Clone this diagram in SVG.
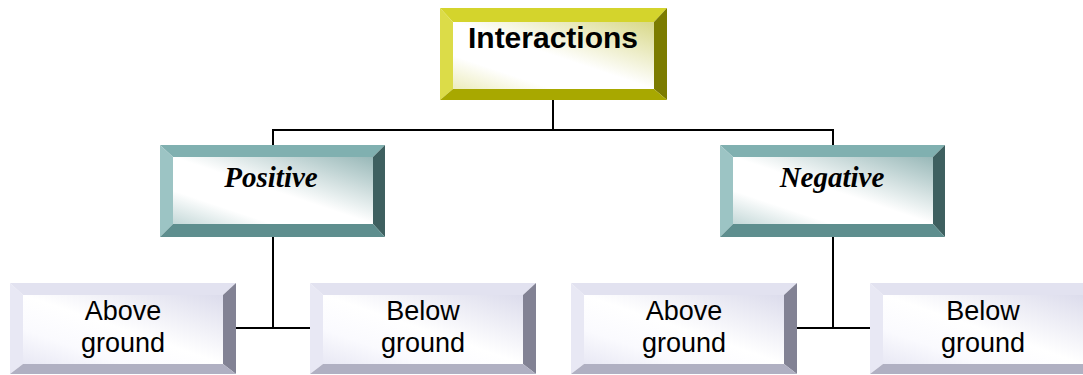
<svg xmlns="http://www.w3.org/2000/svg" width="1083" height="375" viewBox="0 0 1083 375">
<defs>
<linearGradient id="gY" x1="1" y1="0" x2="0" y2="1">
<stop offset="0" stop-color="#d8d888"/><stop offset="0.5" stop-color="#ffffff"/><stop offset="0.75" stop-color="#ffffff"/><stop offset="1" stop-color="#ececbc"/>
</linearGradient>
<linearGradient id="gT" x1="1" y1="0" x2="0" y2="1">
<stop offset="0" stop-color="#98b8b8"/><stop offset="0.5" stop-color="#ffffff"/><stop offset="0.75" stop-color="#ffffff"/><stop offset="1" stop-color="#c4d8d8"/>
</linearGradient>
<linearGradient id="gL" x1="1" y1="0" x2="0" y2="1">
<stop offset="0" stop-color="#dcdcec"/><stop offset="0.5" stop-color="#ffffff"/><stop offset="0.75" stop-color="#fafafe"/><stop offset="1" stop-color="#e8e8f4"/>
</linearGradient>
</defs>
<style>
.yT{fill:#d4d42c}.yL{fill:#dcdc48}.yR{fill:#7c7c00}.yB{fill:#a8a800}
.tT{fill:#80b0b0}.tL{fill:#9cc4c4}.tR{fill:#3e6060}.tB{fill:#5e8e8e}
.lT{fill:#e2e2f0}.lL{fill:#e8e8f4}.lR{fill:#828294}.lB{fill:#b0b0c2}
.head{font-family:"Liberation Sans",Arial,sans-serif;font-weight:bold;font-size:30px;fill:#000;text-anchor:middle}
.mid{font-family:"Liberation Serif","Times New Roman",serif;font-weight:bold;font-style:italic;font-size:29px;fill:#000;text-anchor:middle}
.leaf{font-family:"Liberation Sans",Arial,sans-serif;font-size:27px;fill:#000;text-anchor:middle}
.conn{stroke:#000;stroke-width:2;fill:none}
</style>
<rect width="1083" height="375" fill="#ffffff"/>
<g id="connectors">
<path class="conn" d="M553,100 V130 M273,130 H833 M273,129 V145 M833,129 V145"/>
<path class="conn" d="M273,237 V328 M236,328 H310"/>
<path class="conn" d="M833,237 V328 M797,328 H870"/>
</g>
<g id="interactions">
<polygon class="yT" points="440,8 667,8 654,22 453,22"/>
<polygon class="yL" points="440,8 453,22 453,89 440,100"/>
<polygon class="yR" points="667,8 667,100 654,89 654,22"/>
<polygon class="yB" points="440,100 453,89 654,89 667,100"/>
<rect x="453" y="22" width="201" height="67" fill="url(#gY)"/>
<text class="head" x="553" y="48">Interactions</text>
</g>
<g id="positive">
<polygon class="tT" points="160,145 385,145 373,157 173,157"/>
<polygon class="tL" points="160,145 173,157 173,224 160,237"/>
<polygon class="tR" points="385,145 385,237 373,224 373,157"/>
<polygon class="tB" points="160,237 173,224 373,224 385,237"/>
<rect x="173" y="157" width="200" height="67" fill="url(#gT)"/>
<text class="mid" x="271" y="187">Positive</text>
</g>
<g id="negative">
<polygon class="tT" points="720,145 945,145 933,157 733,157"/>
<polygon class="tL" points="720,145 733,157 733,224 720,237"/>
<polygon class="tR" points="945,145 945,237 933,224 933,157"/>
<polygon class="tB" points="720,237 733,224 933,224 945,237"/>
<rect x="733" y="157" width="200" height="67" fill="url(#gT)"/>
<text class="mid" x="832" y="187">Negative</text>
</g>
<g id="pos-above">
<polygon class="lT" points="10,283 236,283 223,295 23,295"/>
<polygon class="lL" points="10,283 23,295 23,364 10,374"/>
<polygon class="lR" points="236,283 236,374 223,364 223,295"/>
<polygon class="lB" points="10,374 23,364 223,364 236,374"/>
<rect x="23" y="295" width="200" height="69" fill="url(#gL)"/>
<text class="leaf" x="123" y="320">Above</text>
<text class="leaf" x="123" y="352">ground</text>
</g>
<g id="pos-below">
<polygon class="lT" points="310,283 536,283 523,295 323,295"/>
<polygon class="lL" points="310,283 323,295 323,364 310,374"/>
<polygon class="lR" points="536,283 536,374 523,364 523,295"/>
<polygon class="lB" points="310,374 323,364 523,364 536,374"/>
<rect x="323" y="295" width="200" height="69" fill="url(#gL)"/>
<text class="leaf" x="423" y="320">Below</text>
<text class="leaf" x="423" y="352">ground</text>
</g>
<g id="neg-above">
<polygon class="lT" points="571,283 797,283 784,295 584,295"/>
<polygon class="lL" points="571,283 584,295 584,364 571,374"/>
<polygon class="lR" points="797,283 797,374 784,364 784,295"/>
<polygon class="lB" points="571,374 584,364 784,364 797,374"/>
<rect x="584" y="295" width="200" height="69" fill="url(#gL)"/>
<text class="leaf" x="684" y="320">Above</text>
<text class="leaf" x="684" y="352">ground</text>
</g>
<g id="neg-below">
<polygon class="lT" points="870,283 1096,283 1083,295 883,295"/>
<polygon class="lL" points="870,283 883,295 883,364 870,374"/>
<polygon class="lR" points="1096,283 1096,374 1083,364 1083,295"/>
<polygon class="lB" points="870,374 883,364 1083,364 1096,374"/>
<rect x="883" y="295" width="200" height="69" fill="url(#gL)"/>
<text class="leaf" x="983" y="320">Below</text>
<text class="leaf" x="983" y="352">ground</text>
</g>
</svg>
